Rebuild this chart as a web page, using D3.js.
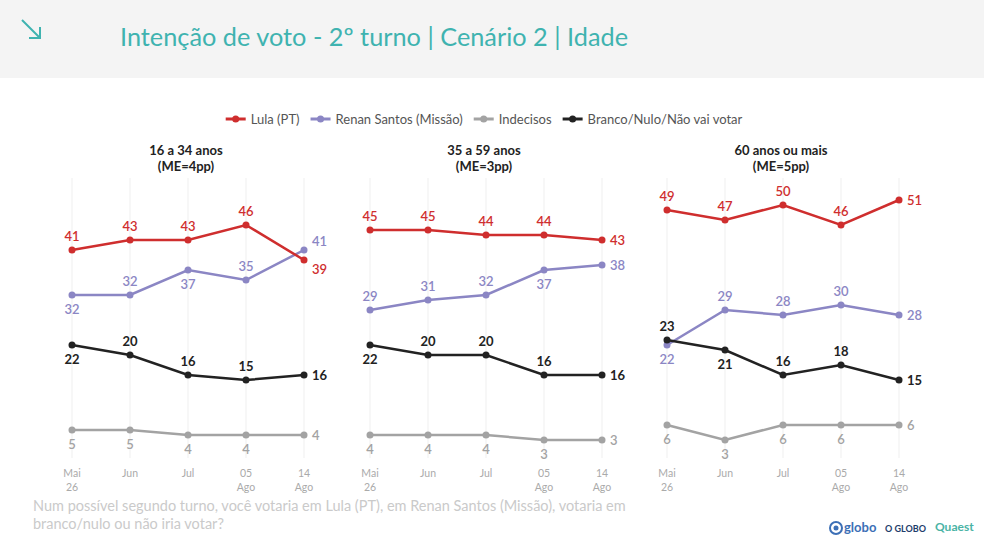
<!DOCTYPE html>
<html><head><meta charset="utf-8">
<script src="https://cdn.jsdelivr.net/npm/d3@7"></script>
<style>body{margin:0;background:#fff;}svg{display:block;font-family:Lato,"Open Sans",sans-serif;}</style>
</head><body><svg id="c" width="984" height="551"></svg>
<script>
const periods = [["Mai","26"],["Jun"],["Jul"],["05","Ago"],["14","Ago"]];
const panels = [["16 a 34 anos","(ME=4pp)"],["35 a 59 anos","(ME=3pp)"],["60 anos ou mais","(ME=5pp)"]];
const seriesNames = ["Lula (PT)","Renan Santos (Missão)","Indecisos","Branco/Nulo/Não vai votar"];
const lula    = [[41,43,43,46,39],[45,45,44,44,43],[49,47,50,46,51]];
const renan   = [[32,32,37,35,41],[29,31,32,37,38],[22,29,28,30,28]];
const indec   = [[5,5,4,4,4],[4,4,4,3,3],[6,3,6,6,6]];
const branco  = [[22,20,16,15,16],[22,20,20,16,16],[23,21,16,18,15]];
// label side per point: a=above, b=below, r=right
const lulaSide   = ["aaaar","aaaar","aaaar"];
const renanSide  = ["babar","aaabr","baaar"];
const indecSide  = ["bbbbr","bbbbr","bbbbr"];
const brancoSide = ["baaar","baaar","abaar"];
const title = "Intenção de voto - 2º turno | Cenário 2 | Idade";
const question = ["Num possível segundo turno, você votaria em Lula (PT), em Renan Santos (Missão), votaria em","branco/nulo ou não iria votar?"];

const colors = ["#cf2e2e","#8b86c4","#a3a3a3","#222222"];
const svg = d3.select("#c");

// header
svg.append("rect").attr("x",0).attr("y",0).attr("width",984).attr("height",78).attr("fill","#f4f4f4");
svg.append("path").attr("d","M22,20 L40,38 M40,27 L40,38 L29,38").attr("stroke","#3fb3b0").attr("stroke-width",2).attr("fill","none");
svg.append("text").attr("x",120).attr("y",46).attr("font-size",25).attr("fill","#3fb3b0")
  .attr("textLength",508).attr("lengthAdjust","spacingAndGlyphs").text(title);

// legend
const lg = svg.append("g").attr("font-size",13).attr("fill","#555");
let lx = 0;
seriesNames.forEach((n,i)=>{
  const g = lg.append("g").attr("transform",`translate(${lx},0)`);
  g.append("line").attr("x1",0).attr("x2",20).attr("y1",0).attr("y2",0).attr("stroke",colors[i]).attr("stroke-width",3);
  g.append("circle").attr("cx",10).attr("cy",0).attr("r",3.5).attr("fill",colors[i]);
  const t = g.append("text").attr("x",25).attr("y",4.5).text(n);
  lx += 25 + t.node().getComputedTextLength() + 11;
});
lg.attr("transform",`translate(${484 - (lx-11)/2},119)`);

const y = d3.scaleLinear().domain([0,51]).range([455,200]);
const series = [[lula,lulaSide],[renan,renanSide],[indec,indecSide],[branco,brancoSide]];
const panelLeft = [72,370,667];

panels.forEach((p,pi)=>{
  const x = d3.scalePoint().domain(d3.range(periods.length)).range([panelLeft[pi], panelLeft[pi]+232]);
  const g = svg.append("g");
  g.selectAll("line.grid").data(d3.range(periods.length)).join("line")
    .attr("x1",d=>x(d)).attr("x2",d=>x(d)).attr("y1",178).attr("y2",458)
    .attr("stroke","#efefef").attr("stroke-width",1);
  const cx = panelLeft[pi]+114;
  g.append("text").attr("x",cx).attr("y",155).attr("text-anchor","middle").attr("font-size",13).attr("font-weight","bold").attr("fill","#222").text(p[0]);
  g.append("text").attr("x",cx).attr("y",171).attr("text-anchor","middle").attr("font-size",13).attr("font-weight","bold").attr("fill","#222").text(p[1]);
  const xl = g.selectAll("text.xl").data(periods).join("text").attr("class","xl")
    .attr("x",(d,i)=>x(i)).attr("y",477).attr("text-anchor","middle").attr("font-size",10.5).attr("fill","#aaa");
  xl.each(function(d){ d.forEach((s,k)=>d3.select(this).append("tspan").attr("x",d3.select(this).attr("x")).attr("dy",k?14:0).text(s)); });
  [2,1,0,3].forEach(si=>{
    const vals = series[si][0][pi], sides = series[si][1][pi];
    const col = colors[si];
    g.append("path").datum(vals).attr("fill","none").attr("stroke",col).attr("stroke-width",2.5)
      .attr("d",d3.line().x((d,i)=>x(i)).y(d=>y(d)));
    g.selectAll(null).data(vals).join("circle").attr("cx",(d,i)=>x(i)).attr("cy",d=>y(d)).attr("r",3.5).attr("fill",col);
    g.selectAll(null).data(vals).join("text")
      .attr("x",(d,i)=>sides[i]==="r"? x(i)+8 : x(i))
      .attr("y",(d,i)=>sides[i]==="a"? y(d)-9 : sides[i]==="b"? y(d)+19 : y(d)+5 + (si===0&&pi===0?9:0) + (si===1&&pi===0?-9:0))
      .attr("text-anchor",(d,i)=>sides[i]==="r"?"start":"middle")
      .attr("font-size",13).attr("font-weight", si===3?"bold":"600")
      .attr("fill", si===3?"#222":col)
      .text(d=>d);
  });
});

// footer
svg.append("g").attr("font-size",14.5).attr("fill","#cacaca").selectAll("text").data(question).join("text")
  .attr("x",33).attr("y",(d,i)=>511+i*18).text(d=>d);
const lo = svg.append("g").attr("transform","translate(0,532)");
lo.append("circle").attr("cx",836).attr("cy",-4).attr("r",6).attr("fill","none").attr("stroke","#3c6fb6").attr("stroke-width",2);
lo.append("circle").attr("cx",836).attr("cy",-4).attr("r",2.5).attr("fill","#3c6fb6");
lo.append("text").attr("x",844).attr("y",0).attr("font-size",13).attr("font-weight","bold").attr("fill","#3c6fb6").text("globo");
lo.append("text").attr("x",885).attr("y",0).attr("font-size",9).attr("font-weight","bold").attr("fill","#1d3d6b").text("O GLOBO");
lo.append("text").attr("x",935).attr("y",-1).attr("font-size",12).attr("font-weight","bold").attr("fill","#4ab3a5").text("Quaest");
</script></body></html>
